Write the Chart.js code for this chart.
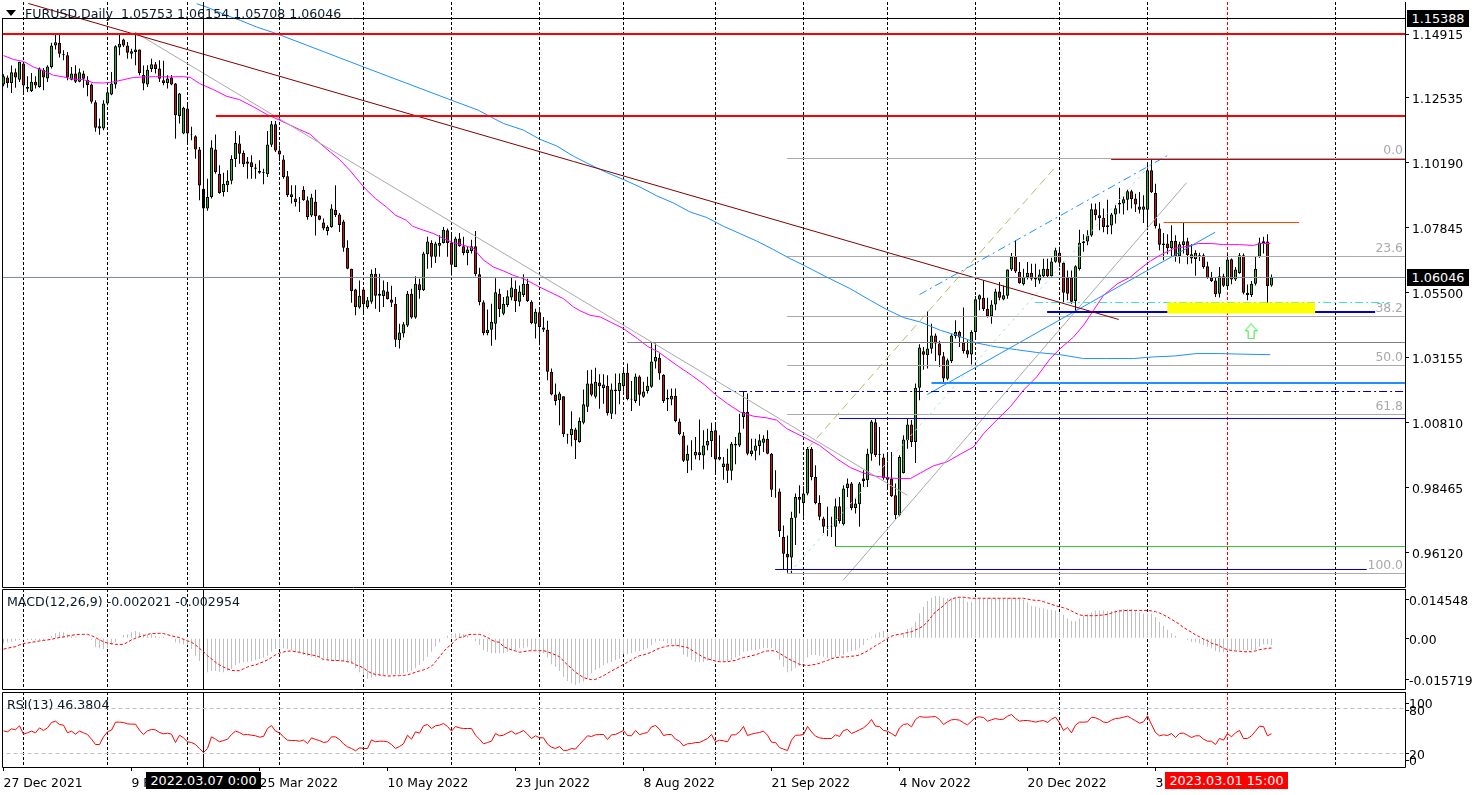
<!DOCTYPE html>
<html>
<head>
<meta charset="utf-8">
<title>EURUSD Daily</title>
<script src="https://cdn.jsdelivr.net/npm/chart.js@4"></script>
<style>
html, body { margin: 0; padding: 0; background: #fff; overflow: hidden; }
#page { position: relative; width: 1477px; height: 795px; }
canvas { position: absolute; left: 0; display: block; }
.lbl { position: absolute; font: 12.6px/14px "DejaVu Sans", sans-serif; color: #0a1a2a; white-space: pre; }
.tag { position: absolute; font: 12.8px/17px "DejaVu Sans", sans-serif; color: #fff; text-align: center; white-space: pre; height: 17px; }
.tri { position: absolute; left: 6px; top: 10px; width: 0; height: 0; border-left: 5px solid transparent; border-right: 5px solid transparent; border-top: 6px solid #000; }
</style>
</head>
<body>
<div id="page">
  <canvas id="mainChart" width="1477" height="589" style="top:0"></canvas>
  <canvas id="macdChart" width="1477" height="103" style="top:588px"></canvas>
  <canvas id="rsiChart" width="1477" height="104" style="top:691px"></canvas>
  <div class="tri"></div>
  <div class="lbl" style="left:25px;top:7px">FURUSD,Daily  1.05753 1.06154 1.05708 1.06046</div>
  <div class="lbl" style="left:7px;top:595px">MACD(12,26,9) -0.002021 -0.002954</div>
  <div class="lbl" style="left:7px;top:698px">RSI(13) 46.3804</div>
  <div class="tag" style="left:1407px;top:10px;width:62px;background:#000">1.15388</div>
  <div class="tag" style="left:1407px;top:269px;width:62px;background:#000">1.06046</div>
  <div class="tag" style="left:146px;top:772px;width:115px;background:#000">2022.03.07 0:00</div>
  <div class="tag" style="left:1165px;top:772px;width:123px;background:#f00">2023.03.01 15:00</div>
</div>
<script>
// daily candles, one entry per bar
const openPrices = [
1.1301,1.1326,1.1306,1.1345,1.1318,1.1376,1.1292,1.1277,1.1311,1.1292,
1.1354,1.1322,1.1364,1.1441,1.1451,1.1410,1.1406,1.1318,1.1340,1.1311,
1.1340,1.1318,1.1301,1.1237,1.1142,1.1142,1.1232,1.1265,1.1301,1.1434,
1.1463,1.1441,1.1412,1.1418,1.1427,1.1335,1.1301,1.1357,1.1374,1.1358,
1.1316,1.1306,1.1326,1.1304,1.1187,1.1124,1.1214,1.1121,1.1114,1.1066,
1.0925,1.0853,1.0895,1.1066,1.0979,1.0913,1.0937,1.0953,1.1032,1.1088,
1.1054,1.1023,1.1020,1.1001,1.0989,1.0985,1.0977,1.1083,1.1157,1.1063,
1.1030,1.0970,1.0905,1.0889,1.0875,1.0921,1.0883,1.0828,1.0878,1.0828,
1.0803,1.0772,1.0787,1.0849,1.0832,1.0806,1.0712,1.0636,1.0561,1.0496,
1.0561,1.0498,1.0517,1.0618,1.0539,1.0538,1.0554,1.0525,1.0510,1.0378,
1.0402,1.0431,1.0546,1.0460,1.0580,1.0558,1.0688,1.0730,1.0679,1.0719,
1.0729,1.0775,1.0731,1.0642,1.0745,1.0717,1.0693,1.0700,1.0717,1.0616,
1.0515,1.0404,1.0416,1.0438,1.0546,1.0474,1.0505,1.0532,1.0564,1.0517,
1.0541,1.0582,1.0517,1.0438,1.0479,1.0416,1.0416,1.0264,1.0182,1.0162,
1.0176,1.0038,1.0036,1.0056,1.0011,1.0080,1.0138,1.0222,1.0174,1.0226,
1.0206,1.0214,1.0113,1.0200,1.0195,1.0212,1.0261,1.0167,1.0159,1.0247,
1.0174,1.0195,1.0210,1.0301,1.0315,1.0254,1.0164,1.0164,1.0178,1.0085,
1.0034,.9943,.9964,.9962,.9974,.9962,.9998,1.0015,1.0053,.9948,
.9921,.9933,.9907,1.0005,.9998,1.0101,1.0119,.9968,.9979,.9997,
1.0008,1.0023,.9969,.9839,.9832,.9668,.9608,.9594,.9738,.9813,
.9791,.9825,.9987,.9885,.9791,.9735,.9707,.9707,.9705,.9779,
.9714,.9845,.9861,.9773,.9786,.9879,.9873,.9969,1.0082,.9967,
.9955,.9885,.9879,.9819,.9747,.9899,1.0017,1.0074,1.0011,1.0207,
1.0338,1.0324,1.0347,1.0395,1.0366,1.0320,1.0239,1.0303,1.0393,1.0408,
1.0370,1.0342,1.0327,1.0408,1.0525,1.0531,1.0492,1.0465,1.0507,1.0554,
1.0525,1.0539,1.0633,1.0681,1.0624,1.0580,1.0606,1.0622,1.0604,1.0594,
1.0609,1.0636,1.0609,1.0661,1.0694,1.0658,1.0604,1.0604,1.0520,1.0635,
1.0729,1.0734,1.0756,1.0851,1.0829,1.0820,1.0793,1.0792,1.0832,1.0868,
1.0871,1.0885,1.0916,1.0889,1.0861,1.0849,1.0849,1.0991,1.0909,1.0781,
1.0727,1.0727,1.0710,1.0736,1.0681,1.0722,1.0735,1.0688,1.0671,1.0685,
1.0685,1.0645,1.0604,1.0594,1.0546,1.0609,1.0573,1.0670,1.0597,1.0621,
1.0685,1.0549,1.0541,1.0582,1.0679,1.0729,1.0734,1.05753];
const highPrices = [
1.1338,1.1333,1.1369,1.1358,1.1383,1.1382,1.1330,1.1342,1.1330,1.1362,
1.1360,1.1370,1.1451,1.1482,1.1482,1.1424,1.1418,1.1364,1.1370,1.1358,
1.1350,1.1330,1.1304,1.1244,1.1178,1.1244,1.1282,1.1346,1.1442,1.1484,
1.1466,1.1454,1.1430,1.1490,1.1427,1.1369,1.1370,1.1394,1.1382,1.1388,
1.1386,1.1334,1.1335,1.1306,1.1270,1.1220,1.1232,1.1148,1.1118,1.1075,
1.0931,1.0961,1.1100,1.1120,1.1009,1.0982,1.0991,1.1045,1.1133,1.1118,
1.1063,1.1039,1.1045,1.1015,1.1027,1.0997,1.1133,1.1169,1.1169,1.1081,
1.1045,1.0989,1.0937,1.0937,1.0895,1.0934,1.0897,1.0907,1.0921,1.0829,
1.0817,1.0793,1.0869,1.0937,1.0837,1.0813,1.0739,1.0636,1.0564,1.0594,
1.0568,1.0534,1.0633,1.0639,1.0618,1.0594,1.0588,1.0575,1.0534,1.0438,
1.0444,1.0556,1.0564,1.0609,1.0600,1.0697,1.0751,1.0739,1.0733,1.0757,
1.0787,1.0781,1.0769,1.0751,1.0765,1.0751,1.0715,1.0741,1.0772,1.0640,
1.0522,1.0489,1.0510,1.0602,1.0564,1.0534,1.0558,1.0604,1.0594,1.0576,
1.0616,1.0600,1.0522,1.0492,1.0486,1.0462,1.0448,1.0276,1.0222,1.0192,
1.0176,1.0041,1.0122,1.0062,1.0099,1.0200,1.0270,1.0272,1.0279,1.0255,
1.0255,1.0252,1.0222,1.0258,1.0258,1.0275,1.0294,1.0231,1.0258,1.0252,
1.0228,1.0246,1.0370,1.0366,1.0330,1.0255,1.0200,1.0204,1.0204,1.0096,
1.0047,.9999,1.0017,1.0029,1.0092,1.0053,1.0059,1.0080,1.0077,1.0035,
.9957,.9987,1.0011,1.0029,1.0113,1.0195,1.0186,1.0023,1.0023,1.0039,
1.0035,1.0053,.9971,.9909,.9843,.9710,.9674,.9759,.9825,.9855,
.9851,.9993,.9993,.9927,.9819,.9741,.9777,.9741,.9807,.9813,
.9855,.9879,.9867,.9807,.9867,.9909,.9987,1.0090,1.0096,1.0065,
.9969,.9969,.9975,.9861,.9963,1.0035,1.0096,1.0090,1.0222,1.0364,
1.0354,1.0482,1.0438,1.0402,1.0376,1.0336,1.0312,1.0400,1.0450,1.0412,
1.0496,1.0378,1.0414,1.0538,1.0543,1.0594,1.0531,1.0522,1.0564,1.0588,
1.0576,1.0633,1.0693,1.0739,1.0660,1.0636,1.0660,1.0654,1.0654,1.0633,
1.0672,1.0672,1.0676,1.0712,1.0715,1.0661,1.0630,1.0630,1.0649,1.0777,
1.0760,1.0775,1.0871,1.0871,1.0877,1.0853,1.0885,1.0837,1.0865,1.0928,
1.0897,1.0921,1.0921,1.0907,1.0913,1.0901,1.1013,1.1033,1.0943,1.0799,
1.0765,1.0760,1.0793,1.0757,1.0733,1.0803,1.0748,1.0724,1.0703,1.0694,
1.0691,1.0661,1.0624,1.0606,1.0642,1.0618,1.0691,1.0673,1.0642,1.0693,
1.0691,1.0579,1.0592,1.0679,1.0748,1.0751,1.0760,1.06154];
const lowPrices = [
1.1294,1.1289,1.1270,1.1289,1.1310,1.1268,1.1274,1.1274,1.1286,1.1289,
1.1280,1.1310,1.1358,1.1427,1.1398,1.1388,1.1316,1.1316,1.1306,1.1309,
1.1289,1.1258,1.1232,1.1130,1.1119,1.1136,1.1226,1.1262,1.1286,1.1406,
1.1436,1.1394,1.1394,1.1370,1.1334,1.1280,1.1292,1.1346,1.1340,1.1310,
1.1298,1.1286,1.1298,1.1105,1.1160,1.1121,1.1088,1.1100,1.1033,1.0883,
1.0805,1.0845,1.0889,1.0979,1.0907,1.0897,1.0913,1.0941,1.1003,1.1015,
1.1003,1.0961,1.0961,1.0961,1.0979,1.0941,1.0967,1.1075,1.1057,1.1025,
1.0961,1.0895,1.0871,1.0861,1.0841,1.0881,1.0813,1.0823,1.0756,1.0811,
1.0775,1.0757,1.0784,1.0823,1.0769,1.0697,1.0634,1.0513,1.0468,1.0492,
1.0480,1.0492,1.0510,1.0492,1.0480,1.0498,1.0525,1.0498,1.0354,1.0348,
1.0388,1.0426,1.0456,1.0456,1.0528,1.0556,1.0636,1.0640,1.0657,1.0679,
1.0727,1.0679,1.0612,1.0642,1.0715,1.0685,1.0649,1.0691,1.0609,1.0504,
1.0396,1.0396,1.0358,1.0380,1.0462,1.0468,1.0498,1.0522,1.0480,1.0501,
1.0534,1.0516,1.0436,1.0384,1.0360,1.0408,1.0234,1.0180,1.0144,1.0071,
1.0029,1.0005,.9996,.9950,1.0008,1.0075,1.0119,1.0176,1.0168,1.0131,
1.0149,1.0107,1.0094,1.0111,1.0147,1.0192,1.0162,1.0123,1.0152,1.0142,
1.0171,1.0186,1.0207,1.0276,1.0236,1.0152,1.0123,1.0144,1.0082,1.0035,
.9939,.9899,.9909,.9949,.9945,.9913,.9981,.9957,.9899,.9945,
.9875,.9863,.9873,.9931,.9993,1.0059,.9963,.9960,.9945,.9963,
.9975,.9967,.9813,.9810,.9668,.9551,.9539,.9536,.9639,.9753,
.9741,.9819,.9873,.9786,.9729,.9683,.9671,.9668,.9635,.9717,
.9710,.9813,.9765,.9753,.9705,.9849,.9849,.9943,.9957,.9926,
.9875,.9849,.9813,.9731,.9743,.9897,.9987,.9993,.9935,1.0162,
1.0272,1.0276,1.0330,1.0303,1.0282,1.0222,1.0234,1.0296,1.0384,1.0354,
1.0330,1.0315,1.0291,1.0390,1.0486,1.0484,1.0460,1.0438,1.0486,1.0522,
1.0522,1.0528,1.0628,1.0621,1.0582,1.0576,1.0597,1.0594,1.0570,1.0582,
1.0606,1.0606,1.0606,1.0658,1.0630,1.0516,1.0522,1.0510,1.0480,1.0630,
1.0697,1.0721,1.0751,1.0811,1.0775,1.0768,1.0760,1.0760,1.0799,1.0835,
1.0832,1.0847,1.0853,1.0841,1.0835,1.0801,1.0781,1.0909,1.0781,1.0703,
1.0667,1.0688,1.0679,1.0661,1.0655,1.0691,1.0652,1.0655,1.0611,1.0664,
1.0636,1.0600,1.0588,1.0534,1.0532,1.0570,1.0561,1.0580,1.0592,1.0618,
1.0544,1.0522,1.0534,1.0576,1.0676,1.0691,1.0510,1.05708];
const closePrices = [
1.1330,1.1306,1.1345,1.1326,1.1383,1.1297,1.1285,1.1311,1.1297,1.1358,
1.1326,1.1366,1.1441,1.1453,1.1412,1.1406,1.1326,1.1340,1.1311,1.1345,
1.1321,1.1299,1.1238,1.1145,1.1150,1.1232,1.1273,1.1304,1.1439,1.1448,
1.1441,1.1415,1.1421,1.1427,1.1342,1.1304,1.1354,1.1374,1.1357,1.1321,
1.1306,1.1322,1.1301,1.1190,1.1268,1.1217,1.1124,1.1119,1.1066,1.0936,
1.0853,1.0895,1.1073,1.0985,1.0909,1.0943,1.0953,1.1032,1.1090,1.1051,
1.1013,1.1015,1.1003,1.0997,1.0982,1.0982,1.1084,1.1157,1.1063,1.1048,
1.0967,1.0901,1.0895,1.0877,1.0872,1.0883,1.0823,1.0893,1.0825,1.0813,
1.0781,1.0787,1.0853,1.0830,1.0794,1.0712,1.0636,1.0556,1.0498,1.0539,
1.0508,1.0522,1.0618,1.0539,1.0546,1.0558,1.0527,1.0513,1.0380,1.0406,
1.0436,1.0546,1.0460,1.0582,1.0558,1.0691,1.0734,1.0679,1.0727,1.0729,
1.0777,1.0729,1.0650,1.0745,1.0718,1.0693,1.0705,1.0717,1.0616,1.0516,
1.0404,1.0416,1.0445,1.0551,1.0491,1.0510,1.0537,1.0568,1.0520,1.0554,
1.0582,1.0520,1.0440,1.0481,1.0426,1.0424,1.0264,1.0182,1.0159,1.0186,
1.0039,1.0035,1.0059,1.0017,1.0087,1.0147,1.0222,1.0181,1.0228,1.0212,
1.0218,1.0116,1.0200,1.0195,1.0225,1.0261,1.0166,1.0164,1.0247,1.0181,
1.0193,1.0214,1.0301,1.0318,1.0258,1.0159,1.0171,1.0178,1.0087,1.0039,
.9943,.9969,.9964,.9976,.9964,.9998,1.0015,1.0051,.9948,.9958,
.9933,.9907,1.0005,.9998,1.0045,1.0119,.9969,.9980,.9998,1.0017,
1.0024,.9969,.9839,.9837,.9690,.9608,.9594,.9738,.9813,.9803,
.9825,.9987,.9885,.9791,.9741,.9705,.9705,.9705,.9779,.9726,
.9843,.9861,.9773,.9789,.9861,.9870,.9969,1.0085,.9964,.9964,
.9880,.9875,.9815,.9747,.9957,1.0020,1.0074,1.0011,1.0207,1.0352,
1.0326,1.0348,1.0395,1.0366,1.0323,1.0240,1.0306,1.0395,1.0408,1.0388,
1.0339,1.0327,1.0408,1.0526,1.0540,1.0491,1.0465,1.0507,1.0554,1.0531,
1.0540,1.0633,1.0679,1.0626,1.0585,1.0606,1.0622,1.0600,1.0597,1.0615,
1.0636,1.0609,1.0662,1.0703,1.0658,1.0549,1.0546,1.0517,1.0645,1.0730,
1.0735,1.0756,1.0851,1.0830,1.0819,1.0787,1.0787,1.0832,1.0854,1.0873,
1.0887,1.0916,1.0888,1.0868,1.0849,1.0861,1.0991,1.0912,1.0789,1.0723,
1.0722,1.0710,1.0736,1.0679,1.0724,1.0735,1.0686,1.0673,1.0694,1.0682,
1.0642,1.0603,1.0592,1.0544,1.0609,1.0575,1.0669,1.0597,1.0633,1.0685,
1.0549,1.0541,1.0582,1.0636,1.0731,1.0735,1.0574,1.06046];

// moving averages, read at a bar every few days
const magentaBars = [0,2.5,5,7.5,10,12.5,15,17.5,20,22.5,25,27.5,30,32.5,35,38,41.7,45,46.7,49,52.5,55.8,59,62.5,65.8,69,71.7,74,76.7,79,81.7,84,86.7,89,90.7,93,95.7,98,100.7,102.3,105,107.5,110,112.5,115,117.5,120,122.5,125,127.5,130,132.5,134,137.5,140,142.5,144.2,146.7,149.2,151.7,155,158.5,161,163.7,166,168.7,172,175.2,178.5,181,184.2,187.5,190.8,193.3,195.8,198.3,200.8,204,208.3,211.7,215,218.3,221.7,224.2,226.7,229.2,232.5,235.8,239.2,242.5,245,248.3,251.7,255,258.3,261.7,264.2,267.5,270,272.5,275,278.5,281.7,284.2,286.7,289.2,292.5,296,298.7,302,305,309,312.5,314.2,316.7];
const magentaValues = [1.1405,1.1391,1.1384,1.1364,1.1350,1.1334,1.1328,1.1320,1.1318,1.1307,1.1306,1.1310,1.1318,1.1326,1.1328,1.1329,1.1328,1.1329,1.1326,1.1304,1.1282,1.1258,1.1246,1.1220,1.1193,1.1172,1.1154,1.1138,1.1121,1.1090,1.1057,1.1030,1.0989,1.0949,1.0921,1.0889,1.0859,1.0829,1.0811,1.0789,1.0775,1.0763,1.0745,1.0729,1.0721,1.0709,1.0667,1.0642,1.0628,1.0612,1.0600,1.0582,1.0570,1.0546,1.0528,1.0498,1.0484,1.0468,1.0462,1.0444,1.0420,1.0384,1.0356,1.0336,1.0312,1.0284,1.0252,1.0218,1.0176,1.0149,1.0119,1.0104,1.0098,1.0090,1.0059,1.0041,1.0023,.9999,.9951,.9919,.9899,.9887,.9881,.9879,.9879,.9899,.9925,.9939,.9967,.9993,1.0041,1.0090,1.0138,1.0198,1.0246,1.0312,1.0348,1.0390,1.0432,1.0486,1.0540,1.0582,1.0606,1.0636,1.0664,1.0685,1.0709,1.0717,1.0727,1.0727,1.0723,1.0723,1.0720,1.0727,1.0727];
const blueMaBars = [48.3,50.8,55.8,59.2,63.3,68.3,90,112,118.7,121,125,130,134.1,138.3,142.5,146.6,150.8,155,159.1,163.3,167.5,171.6,175.8,180,184.1,188.3,192.5,196.6,200,205.8,211.7,216.7,220.8,225,229.2,234.2,238.3,243.3,248.3,253.3,258.3,264.2,270,275.8,282.5,287.5,292.5,298.3,304,309.2,316.7];
const blueMaValues = [1.1592,1.1580,1.1550,1.1532,1.1508,1.1484,1.1364,1.1244,1.1208,1.1190,1.1160,1.1136,1.1103,1.1079,1.1042,1.1012,1.0983,1.0958,1.0931,1.0899,1.0873,1.0841,1.0821,1.0789,1.0763,1.0736,1.0705,1.0673,1.0649,1.0606,1.0564,1.0522,1.0489,1.0460,1.0444,1.0414,1.0396,1.0368,1.0354,1.0344,1.0334,1.0326,1.0312,1.0312,1.0312,1.0318,1.0321,1.0330,1.0330,1.0328,1.0326];

// MACD histogram and signal
const macdHist = [
-.0019,-.0015,-.0013,-.0010,-.0006,-.0006,-.0006,-.0006,-.0006,-.0006,
-.0006,0,.0010,.0019,.0023,.0023,.0015,.0010,.0006,.0003,
.0003,-.0003,-.0006,-.0032,-.0038,-.0041,-.0038,-.0025,-.0015,0,
.0013,.0015,.0023,.0028,.0023,.0015,.0013,.0015,.0010,.0006,
.0006,.0003,-.0003,-.0015,-.0019,-.0023,-.0025,-.0041,-.0066,-.0086,
-.0116,-.0129,-.0124,-.0124,-.0127,-.0129,-.0124,-.0116,-.0101,-.0095,
-.0091,-.0089,-.0086,-.0082,-.0078,-.0073,-.0066,-.0051,-.0041,-.0038,
-.0038,-.0041,-.0044,-.0051,-.0057,-.0063,-.0066,-.0070,-.0073,-.0073,
-.0078,-.0082,-.0086,-.0086,-.0086,-.0086,-.0091,-.0099,-.0114,-.0129,
-.0139,-.0154,-.0149,-.0146,-.0142,-.0139,-.0137,-.0137,-.0137,-.0137,
-.0133,-.0129,-.0124,-.0114,-.0101,-.0086,-.0070,-.0051,-.0032,-.0015,
.0003,.0010,.0015,.0019,.0019,.0015,.0010,.0003,-.0010,-.0025,
-.0044,-.0051,-.0057,-.0057,-.0057,-.0057,-.0051,-.0044,-.0044,-.0038,
-.0038,-.0032,-.0044,-.0044,-.0063,-.0057,-.0073,-.0099,-.0108,-.0124,
-.0146,-.0162,-.0171,-.0177,-.0171,-.0165,-.0152,-.0133,-.0120,-.0114,
-.0101,-.0095,-.0091,-.0082,-.0078,-.0061,-.0061,-.0057,-.0051,-.0048,
-.0044,-.0038,-.0025,-.0013,-.0010,-.0010,-.0019,-.0023,-.0028,-.0035,
-.0063,-.0070,-.0082,-.0089,-.0091,-.0091,-.0086,-.0086,-.0091,-.0086,
-.0086,-.0086,-.0082,-.0073,-.0066,-.0051,-.0048,-.0044,-.0044,-.0041,
-.0038,-.0038,-.0038,-.0044,-.0082,-.0108,-.0129,-.0124,-.0114,-.0104,
-.0091,-.0073,-.0063,-.0063,-.0066,-.0070,-.0076,-.0078,-.0070,-.0066,
-.0063,-.0051,-.0048,-.0044,-.0038,-.0025,-.0006,.0006,.0015,.0023,
.0028,.0019,.0006,.0003,0,.0015,.0035,.0041,.0063,.0095,
.0120,.0142,.0154,.0161,.0161,.0154,.0152,.0152,.0154,.0152,
.0152,.0139,.0139,.0154,.0154,.0152,.0152,.0152,.0152,.0152,
.0152,.0154,.0154,.0154,.0152,.0146,.0137,.0124,.0120,.0116,
.0114,.0109,.0108,.0106,.0099,.0089,.0076,.0066,.0066,.0076,
.0086,.0091,.0099,.0106,.0106,.0106,.0104,.0104,.0106,.0109,
.0111,.0111,.0111,.0106,.0099,.0094,.0094,.0094,.0081,.0063,
.0048,.0032,.0019,.0010,.0003,0,-.0006,-.0013,-.0015,-.0019,
-.0025,-.0032,-.0038,-.0048,-.0053,-.0053,-.0048,-.0048,-.0044,-.0044,
-.0044,-.0044,-.0044,-.0044,-.0032,-.0023,-.0023,-.0025];
const macdSignal = [
-.0041,-.0038,-.0034,-.0032,-.0025,-.0020,-.0018,-.0015,-.0013,-.0010,
-.0008,-.0006,-.0004,0,.0003,.0005,.0009,.0011,.0014,.0015,
.0015,.0015,.0010,.0003,-.0006,-.0013,-.0018,-.0020,-.0023,-.0023,
-.0023,-.0015,-.0006,0,.0006,.0010,.0015,.0018,.0018,.0019,
.0018,.0014,.0009,.0006,.0003,-.0004,-.0010,-.0015,-.0025,-.0038,
-.0051,-.0066,-.0078,-.0091,-.0101,-.0109,-.0116,-.0122,-.0123,-.0123,
-.0116,-.0109,-.0104,-.0101,-.0095,-.0089,-.0082,-.0073,-.0063,-.0056,
-.0052,-.0049,-.0048,-.0051,-.0053,-.0057,-.0060,-.0063,-.0066,-.0071,
-.0081,-.0082,-.0084,-.0084,-.0085,-.0086,-.0089,-.0091,-.0101,-.0105,
-.0114,-.0124,-.0133,-.0137,-.0139,-.0142,-.0143,-.0143,-.0142,-.0142,
-.0141,-.0139,-.0134,-.0129,-.0124,-.0120,-.0114,-.0106,-.0089,-.0070,
-.0051,-.0035,-.0023,-.0006,.0003,.0006,.0013,.0015,.0015,.0015,
.0010,.0003,-.0006,-.0013,-.0015,-.0032,-.0038,-.0044,-.0048,-.0053,
-.0051,-.0048,-.0047,-.0047,-.0047,-.0047,-.0051,-.0057,-.0063,-.0070,
-.0086,-.0101,-.0114,-.0129,-.0139,-.0149,-.0154,-.0157,-.0156,-.0149,
-.0142,-.0133,-.0124,-.0116,-.0108,-.0099,-.0091,-.0082,-.0073,-.0066,
-.0063,-.0058,-.0053,-.0044,-.0038,-.0033,-.0029,-.0028,-.0028,-.0028,
-.0032,-.0035,-.0044,-.0054,-.0063,-.0072,-.0078,-.0082,-.0086,-.0089,
-.0089,-.0089,-.0086,-.0084,-.0078,-.0073,-.0070,-.0066,-.0063,-.0057,
-.0051,-.0048,-.0047,-.0048,-.0057,-.0066,-.0076,-.0084,-.0091,-.0099,
-.0101,-.0104,-.0101,-.0099,-.0095,-.0089,-.0084,-.0078,-.0073,-.0072,
-.0071,-.0070,-.0068,-.0067,-.0063,-.0056,-.0048,-.0038,-.0028,-.0020,
-.0010,0,.0008,.0013,.0015,.0018,.0022,.0025,.0032,.0038,
.0048,.0063,.0082,.0101,.0111,.0124,.0139,.0149,.0154,.0156,
.0156,.0154,.0152,.0152,.0152,.0152,.0152,.0152,.0152,.0152,
.0152,.0152,.0152,.0152,.0152,.0152,.0149,.0146,.0144,.0144,
.0139,.0134,.0129,.0124,.0120,.0116,.0111,.0104,.0096,.0089,
.0086,.0086,.0086,.0086,.0087,.0089,.0091,.0096,.0101,.0104,
.0105,.0106,.0106,.0106,.0106,.0106,.0106,.0104,.0101,.0096,
.0089,.0081,.0072,.0063,.0053,.0041,.0032,.0023,.0013,.0006,
-.0003,-.0009,-.0019,-.0023,-.0028,-.0038,-.0043,-.0046,-.0048,-.0049,
-.0051,-.0051,-.0051,-.0048,-.0043,-.0041,-.0038,-.0037];

const rsiValues = [
50.2,48.9,52.9,51.6,56.9,45.8,47.6,49.8,47.6,54.2,
50.7,54.2,61.3,63.1,58.7,57.8,47.6,49.8,45.8,49.8,
47.6,45.3,39.1,32,32,42.2,48.9,51.1,61.8,61.8,
61.3,59.6,59.1,59.1,51.1,45.3,50.2,52,51.6,48,
46.2,47.1,45.8,34.7,44.4,40.9,35.6,34.7,32,26.7,
21.3,26.7,42.2,39.1,35.6,37.3,39.1,45.3,49.8,48,
44.9,45.3,44.4,43.6,41.8,42.7,53.3,57.3,49.8,47.6,
42.2,37.8,37.3,37.3,36.4,37.8,33.3,40.9,38.7,37.3,
34.7,35.6,42.2,42.2,38.7,32.9,28.9,26.7,23.6,27.6,
26.7,26.7,38.2,35.6,36.4,36.4,35.6,32,26.7,29.3,
32.9,44.4,39.1,48.9,47.1,56.9,58.7,53.3,56.9,57.8,
60,56,49.8,56,54.2,53.3,53.3,53.3,44.4,39.1,
32.9,34.7,36.4,46.7,43.6,44.4,47.6,49.8,45.8,48,
50.7,45.8,40,43.6,40.9,40.9,32.4,28.4,26.7,29.3,
24,24.4,26.7,25.8,32,37.8,43.6,42.7,44.9,45.3,
45.3,38.7,44.9,45.3,48,50.7,44,43.6,50.7,45.3,
46.7,48,55.6,57.3,52.4,44,45.3,45.3,39.1,36.4,
30.2,32.9,33.3,34.7,34.7,37.3,40,45.3,35.6,37.8,
36.9,35.6,44.9,44.9,48.9,56,44,45.8,47.1,48,
49.8,44.4,35.1,34.7,28,25.8,24,37.8,44.4,44.4,
45.3,56,48.9,43.1,40.9,40,40,40,44.9,42.7,
50.7,52,46.7,48.9,51.6,54.2,58.7,65.3,56.4,56,
50.7,49.8,46.7,43.1,54.2,58.7,59.6,55.6,65.3,69.3,
68.4,68.4,68.9,69.3,65.3,58.7,62.2,64.9,65.3,64.4,
60.9,58.2,63.1,68,68.9,68,63.1,64.9,66.7,65.3,
65.8,69.8,72,66.7,63.1,64,64,63.1,61.8,63.1,
64,61.3,65.8,68.4,60.9,50.7,54.7,47.6,57.8,61.8,
61.8,62.2,68.4,67.6,65.3,61.8,61.3,64.4,66.7,67.1,
68.4,69.8,66.7,63.6,60.4,62.2,70.2,58.7,48,43.6,
44.9,44,46.7,41.3,46.7,47.1,44.4,41.3,43.6,43.6,
39.1,36.4,36.4,32,40,37.8,46.7,42.2,47.6,50.7,
40,40,43.6,49.8,56.4,56,43.6,46.38];

// axes
const gridBars = [5,26,46,69,90,112,134,155,178,200,221,243,264,286,306,333];
const markedBar = 50;
const cursorBar = 306;
const dateBars = [0,32,64,96,128,160,192,224,256,288];
const dateLabels = ['27 Dec 2021','9 Feb 2022','25 Mar 2022','10 May 2022','23 Jun 2022','8 Aug 2022','21 Sep 2022','4 Nov 2022','20 Dec 2022','3 Feb 2023'];
const priceTicks = [1.14828,1.12535,1.10190,1.07845,1.05500,1.03155,1.00810,.98465,.96120];
const priceLabels = ['1.14915','1.12535','1.10190','1.07845','1.05500','1.03155','1.00810','0.98465','0.96120'];
const macdTicks = [.014548,0,-.015719];
const macdLabels = ['0.014548','0.00','-0.015719'];
const rsiTicks = [87.3,78,20,11.3];
const rsiLabels = ['100','80','20','0'];

// fibonacci levels
const fibLabels = ['0.0','23.6','38.2','50.0','61.8','100.0'];
const fibPrices = [1.10337,1.06802,1.04637,1.02870,1.01102,.95366];
const fibStart = 195.9;

// horizontal levels: [first bar, last bar], price
const lastPrice = 1.06046, topPrice = 1.15388;
const redHigh = 1.14828, redMid = 1.11870, redMidBars = [53.1,351];
const redFib = 1.10301, redFibBars = [276.9,351];
const grayLevel = 1.03699, grayLevelBars = [155.9,351];
const blueThick = 1.02238, blueThickBars = [232,351];
const navyDash = 1.01932, navyDashBars = [179.9,350.4];
const blueLevel = 1.00958, blueLevelBars = [208.9,351];
const greenLevel = .96340, greenLevelBars = [207.9,351];
const navyThick = 1.04800, navyThickBars = [260.9,342.9];
const yellowZone = 1.04944, yellowBars = [290.95,327.9];
const cyanLevel = 1.05142, cyanBars = [257.9,346.6];
const orangeLevel = 1.08028, orangeBars = [290,323.9];
const navyLow = .95510, navyLowBars = [192.9,340.8];

// trend lines
const brownBars = [6.2,278.8], brownPrices = [1.1593,1.0453];
const silverBars = [32.9,225.9], silverPrices = [1.1489,.9819];
const blueDashBars = [229,291.1], blueDashPrices = [1.05428,1.10453];
const blueSolidBars = [230.95,302.9], blueSolidPrices = [1.01821,1.07676];
const tanBars = [201.1,262.9], tanPrices = [.99883,1.10020];
const grayBars = [209.9,295.8], grayPrices = [.95122,1.09469];
const paleBars = [196.6,286.6], palePrices = [.95410,1.10093];
const arrowBar = 311.9, arrowPrice = 1.04104;

const xMin = -.375, xMax = 350.625;
const FONT = { family: '"DejaVu Sans", sans-serif', size: 12.4 };

function seg(xs, ys, color, width, dash) {
    return {
        type: 'line',
        data: xs.map((x, i) => ({ x: x, y: ys[i] })),
        borderColor: color,
        borderWidth: width || 1,
        borderDash: dash || [],
        borderCapStyle: 'butt',
        pointRadius: 0,
        tension: 0,
        fill: false,
        order: 1
    };
}
function level(bars, price, color, width, dash) {
    return seg(bars, [price, price], color, width, dash);
}

// black frame, the main panel has no line above the top price
function framePlugin(fromPrice) {
    return {
        id: 'frame',
        afterDraw(chart) {
            const a = chart.chartArea, c = chart.ctx;
            const top = fromPrice ? chart.scales.y.getPixelForValue(fromPrice) : a.top + .5;
            c.save();
            c.strokeStyle = '#000';
            c.lineWidth = 1;
            c.beginPath();
            c.moveTo(a.left + .5, top);
            c.lineTo(a.left + .5, a.bottom - .5);
            c.lineTo(a.right - .5, a.bottom - .5);
            c.lineTo(a.right - .5, a.top);
            if (!fromPrice) {
                c.moveTo(a.left + .5, a.top + .5);
                c.lineTo(a.right - .5, a.top + .5);
            }
            c.stroke();
            c.restore();
        }
    };
}

const fibTextPlugin = {
    id: 'fibText',
    afterDatasetsDraw(chart) {
        const c = chart.ctx, y = chart.scales.y, right = chart.chartArea.right;
        c.save();
        c.font = '12.4px "DejaVu Sans", sans-serif';
        c.fillStyle = '#a9a9a9';
        c.textAlign = 'right';
        c.textBaseline = 'middle';
        fibLabels.forEach((t, i) => c.fillText(t, right - 3, y.getPixelForValue(fibPrices[i]) - 8));
        c.restore();
    }
};

function xAxis(ticks, withLabels) {
    return {
        type: 'linear',
        min: xMin,
        max: xMax,
        offset: false,
        afterBuildTicks: s => { s.ticks = ticks.map(v => ({ value: v })); },
        afterFit: s => {
            s.paddingLeft = 0;
            s.paddingRight = 0;
            if (withLabels) s.height = 27;
        },
        border: { display: false, dash: [3, 2] },
        grid: {
            offset: false,
            drawTicks: !!withLabels,
            tickLength: 3,
            tickBorderDash: [],
            color: c => {
                if (!c.tick || !gridBars.includes(c.tick.value)) return 'rgba(0,0,0,0)';
                return c.tick.value === cursorBar ? '#f00' : '#000';
            },
            tickColor: c => (c.tick && dateBars.includes(c.tick.value)) ? '#000' : 'rgba(0,0,0,0)'
        },
        ticks: {
            display: !!withLabels,
            autoSkip: false,
            maxRotation: 0,
            minRotation: 0,
            align: 'start',
            padding: 5,
            color: '#000',
            font: FONT,
            callback: v => { const i = dateBars.indexOf(v); return i < 0 ? '' : dateLabels[i]; }
        }
    };
}

function yAxis(min, max, ticks, labels, padding) {
    return {
        position: 'right',
        min: min,
        max: max,
        beginAtZero: false,
        afterBuildTicks: s => { s.ticks = ticks.map(v => ({ value: v })); },
        afterFit: s => {
            s.width = 71;
            s.paddingTop = 0;
            s.paddingBottom = 0;
        },
        border: { display: false },
        grid: { drawOnChartArea: false, tickLength: 3, tickColor: '#000' },
        ticks: {
            autoSkip: false,
            padding: padding,
            labelOffset: 2,
            color: '#000',
            font: FONT,
            callback: (v, i) => labels[i]
        }
    };
}

function makeChart(id, datasets, xScale, yScale, pad, plugins) {
    return new Chart(document.getElementById(id), {
        type: 'bar',
        data: { datasets: datasets },
        options: {
            responsive: false,
            animation: false,
            devicePixelRatio: 1,
            events: [],
            layout: { autoPadding: false, padding: pad },
            plugins: { legend: { display: false }, tooltip: { enabled: false } },
            scales: { x: xScale, y: yScale }
        },
        plugins: plugins
    });
}

// small hollow arrow used as a point marker
function arrowMarker() {
    const m = document.createElement('canvas');
    m.width = 13;
    m.height = 16;
    const c = m.getContext('2d');
    c.fillStyle = '#fff';
    c.strokeStyle = '#32e632';
    c.lineWidth = 1;
    c.beginPath();
    c.moveTo(6.5, .5);
    c.lineTo(12.5, 7.5);
    c.lineTo(9.5, 7.5);
    c.lineTo(9.5, 15.5);
    c.lineTo(3.5, 15.5);
    c.lineTo(3.5, 7.5);
    c.lineTo(.5, 7.5);
    c.closePath();
    c.fill();
    c.stroke();
    return m;
}

const full = [-1, 351];

const wickData = closePrices.map((v, i) => ({ x: i, y: [lowPrices[i], highPrices[i]] }));
const bodyData = closePrices.map((v, i) => ({ x: i, y: [openPrices[i], v] }));
const bodyColors = closePrices.map((v, i) => v >= openPrices[i] ? '#1fbf1f' : '#cc1414');

const mainSets = [
    level(yellowBars, yellowZone, '#ffff00', 11),
    Object.assign({ order: 12 }, {
        data: wickData, barThickness: 1, grouped: false, backgroundColor: '#000', borderWidth: 0, inflateAmount: 0
    }),
    Object.assign({ order: 11 }, {
        data: bodyData, barThickness: 3, grouped: false, backgroundColor: bodyColors, borderColor: '#000',
        borderWidth: 1, borderSkipped: false, inflateAmount: 0
    }),
    level(full, topPrice, '#000'),
    level(full, lastPrice, '#778899'),
    level(full, redHigh, '#ff0000', 2),
    level(redMidBars, redMid, '#ff0000', 2),
    seg([markedBar, markedBar], [.9, 1.2], '#000'),
    seg(brownBars, brownPrices, '#800000'),
    seg(silverBars, silverPrices, '#a9a9a9'),
    level(grayLevelBars, grayLevel, '#808080'),
    level(navyLowBars, navyLow, '#0000cd'),
    level(blueThickBars, blueThick, '#1e90ff', 2),
    level(navyDashBars, navyDash, '#00008b', 1, [8, 3, 2, 3]),
    level(blueLevelBars, blueLevel, '#0000ff'),
    level(greenLevelBars, greenLevel, '#32cd32'),
    level(navyThickBars, navyThick, '#0000cd', 2),
    level(cyanBars, cyanLevel, '#40e0d0', 1, [8, 3, 2, 3]),
    level(orangeBars, orangeLevel, '#ff4500'),
    level(redFibBars, redFib, '#cc0000'),
    seg(blueDashBars, blueDashPrices, '#1e90ff', 1, [8, 4, 2, 4]),
    seg(blueSolidBars, blueSolidPrices, '#1e90ff'),
    seg(tanBars, tanPrices, '#bdb76b', 1, [8, 5]),
    seg(grayBars, grayPrices, '#a9a9a9'),
    seg(paleBars, palePrices, '#b0e0e6', 1, [3, 4]),
    seg(magentaBars, magentaValues, '#ff00ff'),
    seg(blueMaBars, blueMaValues, '#1e90ff'),
    {
        type: 'line',
        data: [{ x: arrowBar, y: arrowPrice }],
        pointStyle: arrowMarker(),
        pointRadius: 8,
        showLine: false,
        order: 0
    }
];
fibPrices.forEach(p => mainSets.push(level([fibStart, 351], p, '#a9a9a9')));

makeChart('mainChart', mainSets,
    xAxis(gridBars, false),
    yAxis(.948429, 1.159829, priceTicks, priceLabels, 3),
    { left: 2, top: 2, bottom: 1 },
    [fibTextPlugin, framePlugin(topPrice)]);

makeChart('macdChart', [
    {
        data: macdHist.map((v, i) => ({ x: i, y: v })),
        barThickness: 1, grouped: false, backgroundColor: '#c0c0c0', borderWidth: 0, inflateAmount: 0, order: 5
    },
    seg(macdSignal.map((v, i) => i), macdSignal, '#ff0000', 1, [3, 2]),
    seg([markedBar, markedBar], [-.03, .03], '#000')
],
    xAxis(gridBars, false),
    yAxis(-.019635, .018724, macdTicks, macdLabels, 0),
    { left: 2, top: 1, bottom: 1 },
    [framePlugin()]);

const rsiGridTicks = [...new Set(gridBars.concat(dateBars))].sort((a, b) => a - b);
makeChart('rsiChart', [
    level(full, 80, '#c0c0c0', 1, [4, 3]),
    level(full, 20, '#c0c0c0', 1, [4, 3]),
    seg(rsiValues.map((v, i) => i), rsiValues, '#ff0000'),
    seg([markedBar, markedBar], [0, 110], '#000')
],
    xAxis(rsiGridTicks, true),
    yAxis(.667, 102, rsiTicks, rsiLabels, 0),
    { left: 2, top: 1, bottom: 0 },
    [framePlugin()]);
</script>
</body>
</html>
